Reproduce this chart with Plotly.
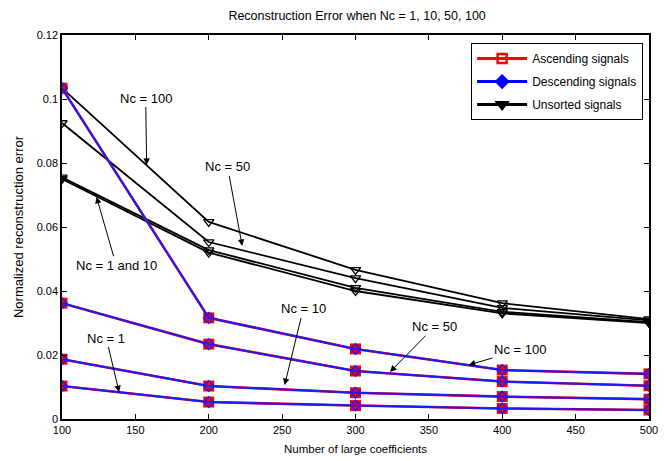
import plotly.graph_objects as go

# Number of large coefficients kept
coeffs = [100, 200, 300, 400, 500]
nc_values = [1, 10, 50, 100]

# Normalized reconstruction error, sorted signals (ascending and descending coincide)
sorted_err = {
    1:   [0.0103, 0.0053, 0.0042, 0.0033, 0.0028],
    10:  [0.0187, 0.0103, 0.0082, 0.0070, 0.0062],
    50:  [0.0362, 0.0234, 0.0150, 0.0117, 0.0104],
    100: [0.1034, 0.0316, 0.0219, 0.0153, 0.0141],
}
ascending_err = sorted_err
descending_err = sorted_err

# Normalized reconstruction error, unsorted signals
unsorted_err = {
    1:   [0.0750, 0.0520, 0.0400, 0.0330, 0.0300],
    10:  [0.0755, 0.0528, 0.0410, 0.0335, 0.0303],
    50:  [0.0925, 0.0553, 0.0440, 0.0347, 0.0308],
    100: [0.1034, 0.0616, 0.0466, 0.0362, 0.0312],
}

# Curve labels: (text, text x, text y, arrow tip x, arrow tip y)
labels = [
    ("Nc = 100", 157, 0.1003, 157.7, 0.0794),
    ("Nc = 50", 212.8, 0.0788, 222.8, 0.0541),
    ("Nc = 1 and 10", 136.9, 0.0481, 123.5, 0.0694),
    ("Nc = 1", 130.2, 0.0253, 138.9, 0.0084),
    ("Nc = 10", 264.4, 0.0344, 251.7, 0.0106),
    ("Nc = 50", 353.7, 0.0288, 323.5, 0.0147),
    ("Nc = 100", 412.1, 0.0216, 377.2, 0.0169),
]

FONT = "Liberation Sans, Arial, sans-serif"
fig = go.Figure()

for nc in nc_values:
    fig.add_trace(go.Scatter(
        x=coeffs, y=unsorted_err[nc], mode="lines+markers",
        line=dict(color="black", width=1.8),
        marker=dict(symbol="triangle-down-open", size=9, color="black",
                    line=dict(width=1.3)),
        showlegend=False, hoverinfo="x+y"))

for nc in nc_values:
    fig.add_trace(go.Scatter(
        x=coeffs, y=ascending_err[nc], mode="lines+markers",
        line=dict(color="red", width=2.6),
        marker=dict(symbol="square", size=11, color="red"),
        showlegend=False))

for nc in nc_values:
    fig.add_trace(go.Scatter(
        x=coeffs, y=descending_err[nc], mode="lines+markers",
        line=dict(color="#1a1aff", width=2),
        marker=dict(symbol="diamond-open", size=8, color="#1a1aff",
                    line=dict(width=1.5)),
        showlegend=False))

# Legend entries
legend_items = [
    ("Ascending signals", "red", "square-open"),
    ("Descending signals", "blue", "diamond"),
    ("Unsorted signals", "black", "triangle-down"),
]
for name, color, symbol in legend_items:
    fig.add_trace(go.Scatter(
        x=[None], y=[None], mode="lines+markers", name=name,
        legendgroup=name,
        line=dict(color=color, width=3),
        marker=dict(symbol=symbol, size=9, color=color,
                    line=dict(color=color, width=2.5))))

for text, tx, ty, px, py in labels:
    fig.add_annotation(
        x=px, y=py, ax=tx, ay=ty, xref="x", yref="y", axref="x", ayref="y",
        text=text, showarrow=True, arrowhead=2, arrowsize=1.3, arrowwidth=1,
        arrowcolor="black", font=dict(family=FONT, size=13, color="black"),
        bgcolor="rgba(0,0,0,0)")

fig.update_layout(
    width=665, height=461,
    margin=dict(l=62, r=7, t=35, b=42),
    paper_bgcolor="white", plot_bgcolor="white",
    font=dict(family=FONT, size=11, color="black"),
    title=dict(text="Reconstruction Error when Nc = 1, 10, 50, 100",
               x=0.537, xanchor="center", y=0.967, yanchor="middle",
               font=dict(size=12.5)),
    legend=dict(x=0.99, y=0.979, xanchor="right", yanchor="top",
                bgcolor="white", bordercolor="black", borderwidth=1,
                font=dict(size=12), itemwidth=50, tracegroupgap=4),
    showlegend=True,
)
fig.update_xaxes(
    range=[100, 500], tickvals=list(range(100, 501, 50)),
    ticklabeloverflow="allow",
    showline=True, linecolor="black", linewidth=1.5, mirror="ticks",
    ticks="inside", ticklen=5, tickcolor="black", showgrid=False,
    zeroline=False,
    title=dict(text="Number of large coefficients", standoff=10,
               font=dict(size=11.5)))
fig.update_yaxes(
    range=[0, 0.12], dtick=0.02, tick0=0,
    ticklabeloverflow="allow",
    showline=True, linecolor="black", linewidth=1.5, mirror="ticks",
    ticks="inside", ticklen=5, tickcolor="black", showgrid=False,
    zeroline=False,
    title=dict(text="Normalized reconstruction error", standoff=10,
               font=dict(size=13)))

fig.write_html("out.html")
